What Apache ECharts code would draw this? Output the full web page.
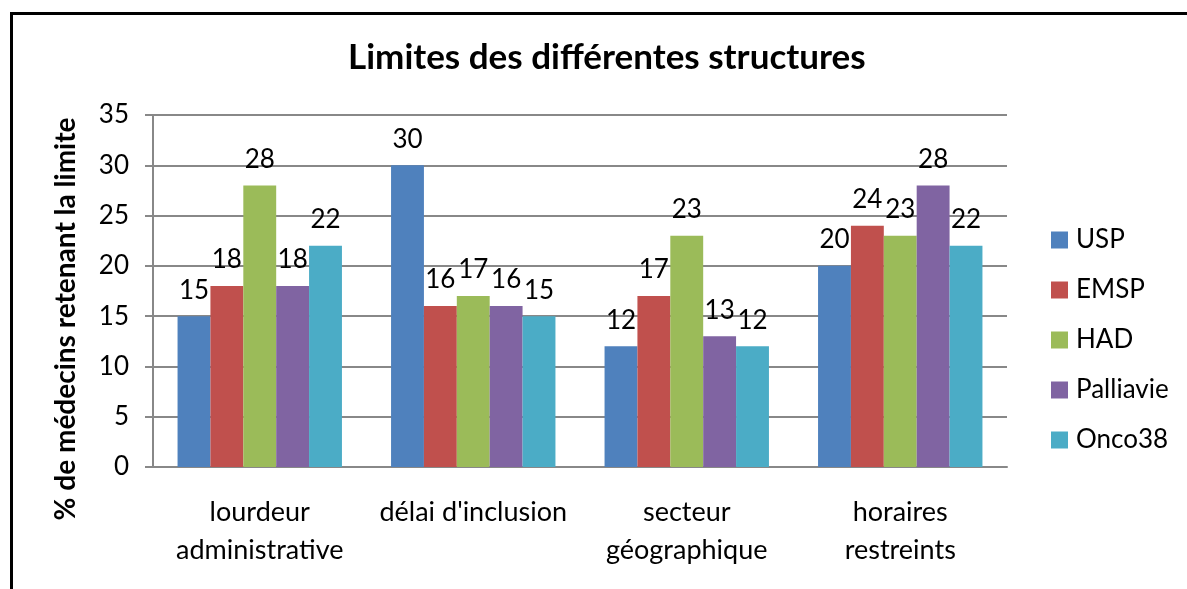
<!DOCTYPE html>
<html>
<head>
<meta charset="utf-8">
<script src="https://cdn.jsdelivr.net/npm/echarts@6/dist/echarts.min.js"></script>
<style>
    html, body { margin: 0; padding: 0; background: #fff; }
    #chart { width: 1187px; height: 589px; }
    .frame {
        position: absolute;
        left: 10px;
        top: 12px;
        right: 0;
        bottom: 0;
        border-top: 3px solid #000;
        border-left: 3px solid #000;
        pointer-events: none;
    }
</style>
</head>
<body>
<div id="chart"></div>
<div class="frame"></div>
<script>
// données
const categories = ['lourdeur\nadministrative', "délai d'inclusion", 'secteur\ngéographique', 'horaires\nrestreints']
const usp = [15, 30, 12, 20]
const emsp = [18, 16, 17, 24]
const had = [28, 17, 23, 23]
const palliavie = [18, 16, 13, 28]
const onco38 = [22, 15, 12, 22]
const seriesNames = ['USP', 'EMSP', 'HAD', 'Palliavie', 'Onco38']
const colors = ['#4F81BD', '#C0504D', '#9BBB59', '#8064A2', '#4BACC6']

const font = 'Lato, "Open Sans", sans-serif'
const chart = echarts.init(document.getElementById('chart'))

const makeSeries = (name, data, i) => ({
    name: name,
    type: 'bar',
    data: data,
    barGap: '0%',
    barCategoryGap: '23%',
    itemStyle: { color: colors[i] },
    label: {
        show: true,
        position: 'top',
        distance: 13,
        color: '#000',
        fontSize: 26,
        fontFamily: font
    }
})

const option = {
    animation: false,
    title: {
        text: 'Limites des différentes structures',
        left: 348,
        top: 40,
        padding: 0,
        textStyle: { fontSize: 35, fontWeight: 'bold', color: '#000', fontFamily: font }
    },
    legend: {
        orient: 'vertical',
        left: 1046,
        top: 222,
        itemWidth: 17,
        itemHeight: 17,
        itemGap: 24,
        icon: 'rect',
        data: seriesNames,
        textStyle: { fontSize: 26, color: '#000', fontFamily: font, padding: [0, 0, 0, 3] }
    },
    grid: { left: 153, right: 180, top: 115, bottom: 122 },
    xAxis: {
        type: 'category',
        data: categories,
        axisLine: { lineStyle: { color: '#888', width: 2 } },
        axisTick: { length: 8, lineStyle: { color: '#888', width: 2 } },
        axisLabel: { interval: 0, color: '#000', fontSize: 27, fontFamily: font, lineHeight: 38, margin: 26 }
    },
    yAxis: {
        type: 'value',
        min: 0,
        max: 35,
        interval: 5,
        name: '% de médecins retenant la limite',
        nameLocation: 'middle',
        nameRotate: 90,
        nameGap: 73,
        nameTextStyle: { fontSize: 28, fontWeight: 'bold', color: '#000', fontFamily: font, padding: [0, 56, 0, 0] },
        axisLine: { show: true, lineStyle: { color: '#888', width: 2 } },
        axisTick: { show: true, length: 8, lineStyle: { color: '#888', width: 2 } },
        splitLine: { lineStyle: { color: '#888', width: 2 } },
        axisLabel: { color: '#000', fontSize: 26, fontFamily: font, margin: 24 }
    },
    series: [
        makeSeries(seriesNames[0], usp, 0),
        makeSeries(seriesNames[1], emsp, 1),
        makeSeries(seriesNames[2], had, 2),
        makeSeries(seriesNames[3], palliavie, 3),
        makeSeries(seriesNames[4], onco38, 4)
    ]
}

chart.setOption(option)
</script>
</body>
</html>
